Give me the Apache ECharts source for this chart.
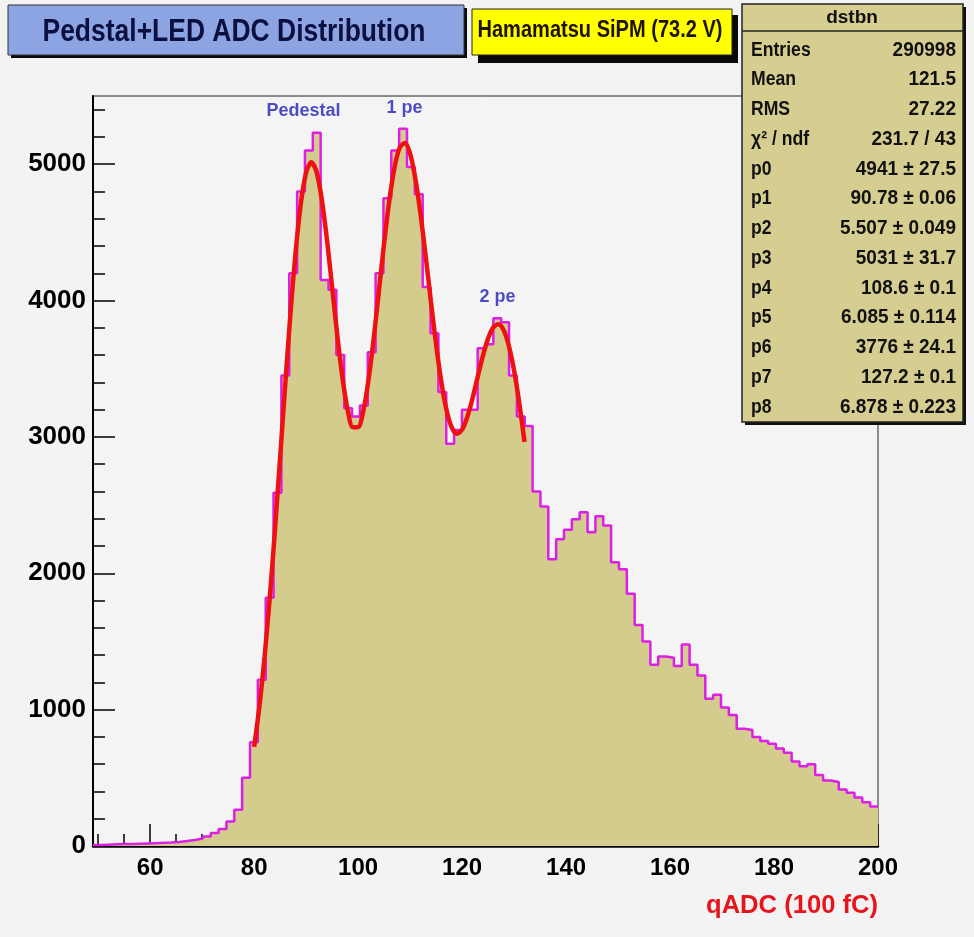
<!DOCTYPE html>
<html><head><meta charset="utf-8">
<script src="https://cdn.jsdelivr.net/npm/echarts@6/dist/echarts.min.js"></script>
<style>html,body{margin:0;padding:0;background:#f3f3f3;}#c{width:974px;height:937px;}</style>
</head><body><div id="c"></div>
<script>
// ---- data ----
const histMin = 49, histMax = 200;
const histCounts = [
  8,10,12,14,15,17,19,21,23,26,
  30,36,44,55,70,95,125,180,265,500,
  760,1220,1820,2590,3450,4200,4800,5100,5230,4150,
  4080,3600,3210,3150,3230,3620,4200,4750,5100,5260,
  4980,4780,4100,3760,3330,2950,3050,3200,3200,3650,
  3680,3870,3840,3450,3150,3080,2600,2490,2103,2250,
  2320,2397,2448,2300,2419,2350,2080,2030,1850,1620,
  1500,1330,1390,1380,1320,1478,1330,1250,1080,1110,
  1015,960,860,850,800,770,750,715,684,620,
  585,600,520,480,470,415,390,355,320,290
];
const fitX = [80,81,82,83,84,85,86,87,88,89,90,91,92,93,94,95,96,97,98,99,100,101,102,103,104,105,106,107,108,109,110,111,112,113,114,115,116,117,118,119,120,121,122,123,124,125,126,127,128,129,130,131,132];
const fitY = [727,1021,1386,1821,2316,2852,3395,3913,4366,4718,
  4939,5014,4944,4744,4447,4098,3743,3429,3195,3071,
  3072,3192,3419,3723,4071,4421,4733,4976,5121,5155,
  5077,4895,4635,4322,3993,3677,3404,3197,3070,3023,
  3053,3146,3282,3440,3594,3721,3803,3826,3782,3667,
  3486,3248,2963];
const xMajorTicks = [60,80,100,120,140,160,180,200];
const xMinorTicks = [50,55,65,70,75,85,90,95,105,110,115,125,130,135,145,150,155,165,170,175,185,190,195];
const yMax = 5500;
const yMajorTicks = [0,1000,2000,3000,4000,5000];
const yMinorTicks = [200,400,600,800,1200,1400,1600,1800,2200,2400,2600,2800,3200,3400,3600,3800,4200,4400,4600,4800,5200,5400];
const peakLabels = ['Pedestal','1 pe','2 pe'];
const peakLabelX = [89.5,108.9,126.8];
const peakLabelY = [5390,5412,4029];
const titleText = 'Pedstal+LED ADC Distribution';
const subtitleText = 'Hamamatsu SiPM (73.2 V)';
const xAxisTitle = 'qADC (100 fC)';
const statsName = 'dstbn';
const statsLabels = ['Entries','Mean','RMS','χ² / ndf','p0','p1','p2','p3','p4','p5','p6','p7','p8'];
const statsValues = ['290998','121.5','27.22','231.7 / 43','4941 ± 27.5','90.78 ± 0.06','5.507 ± 0.049','5031 ± 31.7','108.6 ± 0.1','6.085 ± 0.114','3776 ± 24.1','127.2 ± 0.1','6.878 ± 0.223'];

// ---- build ----
const FF = '"Liberation Sans", Arial, Helvetica, sans-serif';
const mctx = document.createElement('canvas').getContext('2d');
function fitScale(text, font, target){ mctx.font = font; const w = mctx.measureText(text).width; return w>0 ? target/w : 1; }

const binW = (histMax-histMin)/histCounts.length;
const histPts = [];
histCounts.forEach((v,k)=>{ histPts.push([histMin+k*binW, v]); histPts.push([histMin+(k+1)*binW, v]); });
const fitPts = fitX.map((x,i)=>[x,fitY[i]]);
const labelPts = peakLabels.map((n,i)=>({name:n, value:[peakLabelX[i], peakLabelY[i]]}));

const graphics = [];
// title box
graphics.push({type:'rect', shape:{x:11,y:8,width:456,height:50}, style:{fill:'#0a0a0a'}, z:10});
graphics.push({type:'rect', shape:{x:8,y:5,width:456,height:50}, style:{fill:'#8ca4e2', stroke:'#333', lineWidth:1}, z:11});
const tFont = 'bold 31px ' + FF;
graphics.push({type:'text', x:234, y:32, scaleX: fitScale(titleText, tFont, 383), style:{text:titleText, font:tFont, fill:'#0c1040', align:'center', verticalAlign:'middle'}, z:12});
// subtitle box
graphics.push({type:'rect', shape:{x:478,y:15,width:260,height:48}, style:{fill:'#0a0a0a'}, z:10});
graphics.push({type:'rect', shape:{x:472,y:9,width:260,height:46}, style:{fill:'#ffff00', stroke:'#222', lineWidth:1}, z:11});
const sFont = 'bold 23px ' + FF;
graphics.push({type:'text', x:600, y:31, scaleX: fitScale(subtitleText, sFont, 245), style:{text:subtitleText, font:sFont, fill:'#1c1400', align:'center', verticalAlign:'middle'}, z:12});
// stats box
graphics.push({type:'rect', shape:{x:745,y:7,width:221,height:418}, style:{fill:'#111'}, z:10});
graphics.push({type:'rect', shape:{x:742,y:4,width:221,height:418}, style:{fill:'#d6ce91', stroke:'#222', lineWidth:1.5}, z:11});
graphics.push({type:'line', shape:{x1:742,y1:31,x2:963,y2:31}, style:{stroke:'#222', lineWidth:1.5}, z:12});
graphics.push({type:'text', x:852, y:18, style:{text:statsName, font:'bold 19px '+FF, fill:'#111', align:'center', verticalAlign:'middle'}, z:12});
const rowFont = 'bold 20px ' + FF;
statsLabels.forEach((lab,i)=>{
  const y = 50 + i*29.75;
  graphics.push({type:'text', x:751, y:y, scaleX:0.88, style:{text:lab, font:rowFont, fill:'#111', align:'left', verticalAlign:'middle'}, z:12});
  graphics.push({type:'text', x:956, y:y, scaleX:0.95, style:{text:statsValues[i], font:rowFont, fill:'#111', align:'right', verticalAlign:'middle'}, z:12});
});
// x axis title
const aFont = 'bold 25px ' + FF;
graphics.push({type:'text', x:878, y:906, scaleX: fitScale(xAxisTitle, aFont, 172), style:{text:xAxisTitle, font:aFont, fill:'#e8141c', align:'right', verticalAlign:'middle'}, z:12});

const xLabelStyle = {fontSize:24, fontWeight:'bold', color:'#000', fontFamily:FF};
const yLabelStyle = {fontSize:26, fontWeight:'bold', color:'#000', fontFamily:FF};
const chart = echarts.init(document.getElementById('c'), null, {renderer:'canvas'});
chart.setOption({
  animation:false,
  backgroundColor:'#f3f3f3',
  grid:{left:93, right:96, top:96, bottom:91, show:true, borderColor:'#222', borderWidth:1, backgroundColor:'#f4f4f4'},
  xAxis:[
    {type:'value', min:histMin, max:histMax, position:'bottom',
     axisLine:{show:true, onZero:false, lineStyle:{color:'#000', width:2.5}},
     axisTick:{show:true, inside:true, length:22, customValues:xMajorTicks, lineStyle:{color:'#000', width:1.5}},
     axisLabel:Object.assign({show:true, margin:10, customValues:xMajorTicks, formatter:v=>String(v)}, xLabelStyle),
     splitLine:{show:false}},
    {type:'value', min:histMin, max:histMax, position:'bottom',
     axisLine:{show:false},
     axisTick:{show:true, inside:true, length:12, customValues:xMinorTicks, lineStyle:{color:'#000', width:1.5}},
     axisLabel:{show:false}, splitLine:{show:false}}
  ],
  yAxis:[
    {type:'value', min:0, max:yMax, position:'left',
     axisLine:{show:true, onZero:false, lineStyle:{color:'#000', width:2}},
     axisTick:{show:true, inside:true, length:22, customValues:yMajorTicks, lineStyle:{color:'#000', width:1.5}},
     axisLabel:Object.assign({show:true, margin:7, customValues:yMajorTicks, formatter:v=>String(v)}, yLabelStyle),
     splitLine:{show:false}},
    {type:'value', min:0, max:yMax, position:'left',
     axisLine:{show:false},
     axisTick:{show:true, inside:true, length:12, customValues:yMinorTicks, lineStyle:{color:'#000', width:1.5}},
     axisLabel:{show:false}, splitLine:{show:false}}
  ],
  series:[
    {type:'line', name:'hist', xAxisIndex:0, yAxisIndex:0, data:histPts, symbol:'none', z:2,
     lineStyle:{color:'#dc1fe6', width:2.5}, areaStyle:{color:'#d4cc8c', opacity:1}},
    {type:'line', name:'fit', xAxisIndex:0, yAxisIndex:0, data:fitPts, symbol:'none', smooth:0.3, z:3,
     lineStyle:{color:'#ee1111', width:4.5}},
    {type:'scatter', name:'labels', xAxisIndex:0, yAxisIndex:0, data:labelPts, symbolSize:1, z:4,
     itemStyle:{color:'rgba(0,0,0,0)'},
     label:{show:true, position:'inside', formatter:'{b}', fontSize:18, fontWeight:'bold', color:'#1f1fb8', fontFamily:FF}}
  ],
  graphic:graphics
});
</script></body></html>
